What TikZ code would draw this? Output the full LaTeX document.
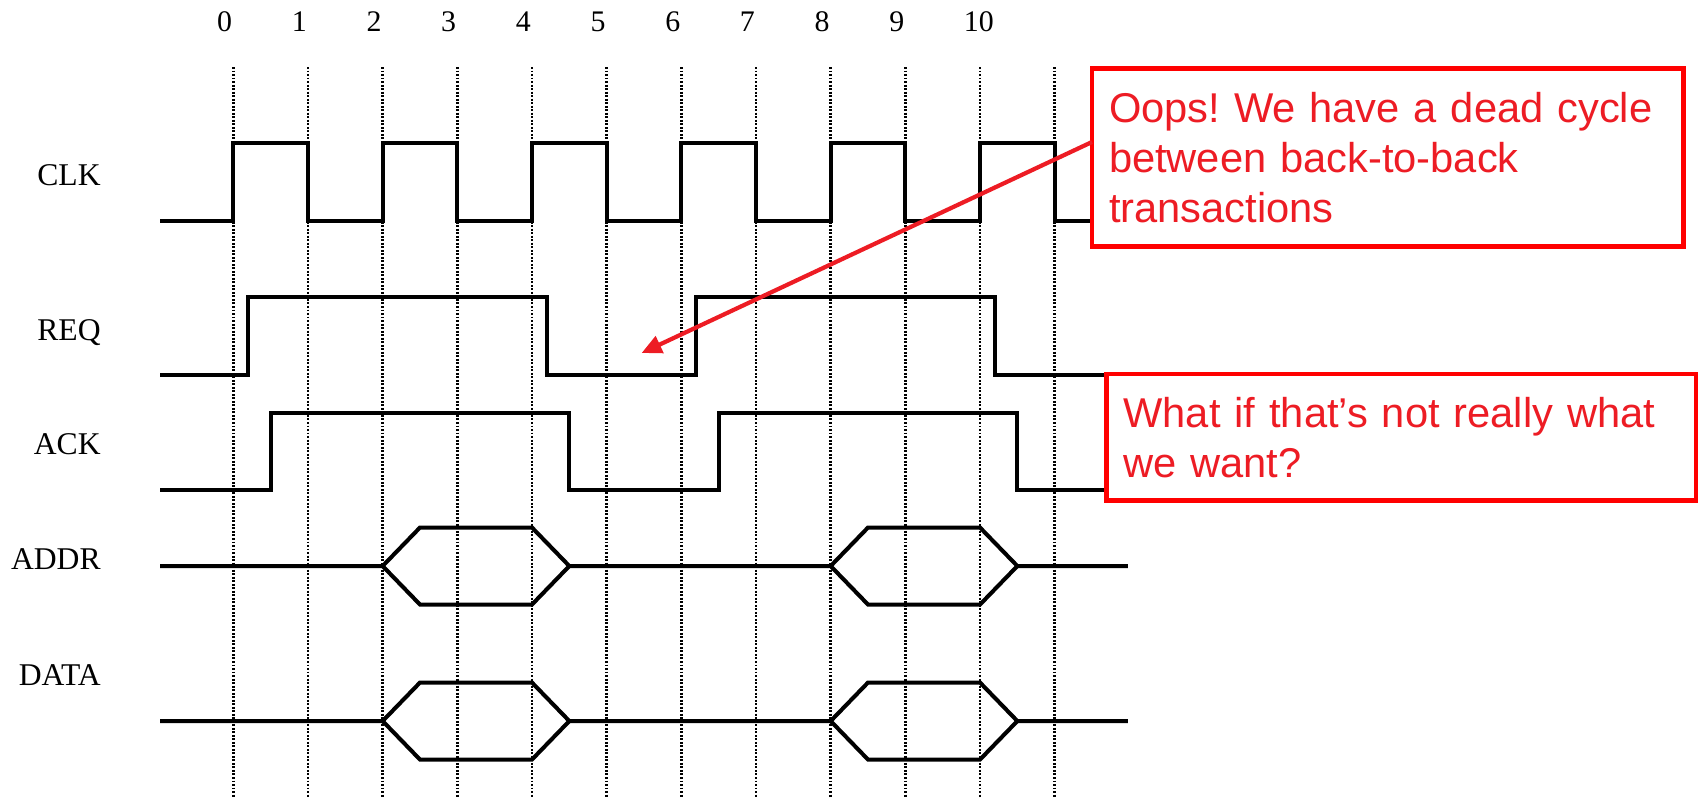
\documentclass[tikz,border=0pt]{standalone}
\usepackage{fontspec}
\setmainfont{Liberation Serif}
\newfontfamily\calloutfont{Liberation Sans}
\usetikzlibrary{arrows.meta}
\definecolor{calloutred}{RGB}{237,28,36}
\definecolor{boxred}{RGB}{255,0,0}

\begin{document}
\begin{tikzpicture}[
  x=1.4933cm, y=1cm,
  sig/.style={line width=2.3pt},
  gridline/.style={line width=1.4pt, dash pattern=on 1.1pt off 0.9pt},
  lbl/.style={anchor=base east, inner sep=0pt, font=\fontsize{18}{21}\selectfont},
  num/.style={anchor=base west, inner sep=0pt, font=\fontsize{17}{20}\selectfont},
  callout/.style={draw=boxred, line width=2.4pt, fill=white, text=calloutred,
    anchor=north west, outer sep=0pt, inner xsep=0.34cm, align=left,
    font=\calloutfont\fontsize{23.7}{28.6}\selectfont\frenchspacing},
  pointer/.style={calloutred, line width=2.4pt, -{Triangle[length=0.4cm, width=0.36cm]}},
]
  \useasboundingbox (-3.1245,0) rectangle (19.6155,-15.94);

  % clock edges
  \foreach \i in {0,...,11}
    \draw[gridline] (\i,-1.34) -- (\i,-15.94);
  \foreach \i in {0,...,10}
    \node[num] (t\i) at (\i-0.22,-0.64) {\i};

  % signal names
  \node[lbl] (clk)  at (-1.772,-3.71)  {CLK};
  \node[lbl] (req)  at (-1.772,-6.80)  {REQ};
  \node[lbl] (ack)  at (-1.772,-9.08)  {ACK};
  \node[lbl] (addr) at (-1.772,-11.39) {ADDR};
  \node[lbl] (data) at (-1.772,-13.71) {DATA};

  % waveforms
  \draw[sig] (-0.98,-4.42) -- (0,-4.42)
    \foreach \i in {0,2,...,10}{ -- (\i,-2.86) -- (\i+1,-2.86) -- (\i+1,-4.42) -- (\i+2,-4.42)};
  \draw[sig] (-0.98,-7.5) -- (0.2,-7.5) -- (0.2,-5.94) -- (4.2,-5.94) -- (4.2,-7.5)
    -- (6.2,-7.5) -- (6.2,-5.94) -- (10.2,-5.94) -- (10.2,-7.5) -- (12,-7.5);
  \draw[sig] (-0.98,-9.79) -- (0.5,-9.79) -- (0.5,-8.25) -- (4.5,-8.25) -- (4.5,-9.79)
    -- (6.5,-9.79) -- (6.5,-8.25) -- (10.5,-8.25) -- (10.5,-9.79) -- (12,-9.79);

  % buses
  \draw[sig] (-0.98,-11.32) -- (2,-11.32) -- (2.5,-10.55) -- (4,-10.55) -- (4.5,-11.32)
    -- (8,-11.32) -- (8.5,-10.55) -- (10,-10.55) -- (10.5,-11.32) -- (11.98,-11.32);
  \draw[sig] (2,-11.32) -- (2.5,-12.09) -- (4,-12.09) -- (4.5,-11.32);
  \draw[sig] (8,-11.32) -- (8.5,-12.09) -- (10,-12.09) -- (10.5,-11.32);
  \draw[sig] (-0.98,-14.42) -- (2,-14.42) -- (2.5,-13.65) -- (4,-13.65) -- (4.5,-14.42)
    -- (8,-14.42) -- (8.5,-13.65) -- (10,-13.65) -- (10.5,-14.42) -- (11.98,-14.42);
  \draw[sig] (2,-14.42) -- (2.5,-15.19) -- (4,-15.19) -- (4.5,-14.42);
  \draw[sig] (8,-14.42) -- (8.5,-15.19) -- (10,-15.19) -- (10.5,-14.42);

  % callouts
  \node[callout, minimum width=11.83cm, minimum height=3.56cm, text width=11.15cm]
    (oops) at (11.5,-1.37) {Oops! We have a dead cycle\\between back-to-back\\transactions};
  \node[callout, minimum width=11.79cm, minimum height=2.53cm, text width=11.11cm]
    (want) at (11.694,-7.48) {What if that’s not really what\\we want?};
  \coordinate (dead) at (5.468,-7.06);
  \draw[pointer] (oops.177) -- (dead);
\end{tikzpicture}
\end{document}
